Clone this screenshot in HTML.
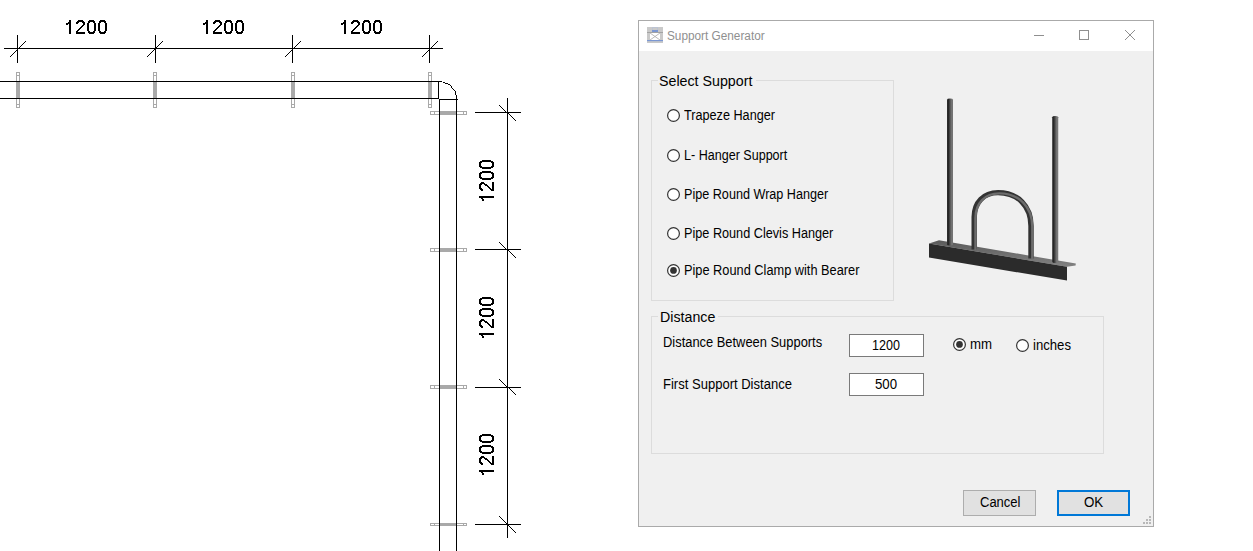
<!DOCTYPE html>
<html><head><meta charset="utf-8">
<style>
*{margin:0;padding:0;box-sizing:border-box}
html,body{width:1253px;height:551px;overflow:hidden;background:#fff;font-family:"Liberation Sans", sans-serif}
.a{position:absolute;white-space:nowrap;transform-origin:0 0}
.rb{position:absolute;width:13px;height:13px;border-radius:50%;border:1px solid #333;background:#fff}
</style></head><body>
<svg class="a" style="left:0;top:0" width="600" height="551" viewBox="0 0 600 551">
 <g fill="#a9a9a9"><rect x="16" y="82" width="4" height="16"/><rect x="153" y="82" width="4" height="16"/><rect x="291" y="82" width="4" height="16"/><rect x="428" y="82" width="4" height="16"/><rect x="440" y="111" width="16" height="4"/><rect x="440" y="248" width="16" height="4"/><rect x="440" y="385" width="16" height="4"/><rect x="440" y="523" width="16" height="3"/></g>
 <path fill="none" stroke="#a9a9a9" stroke-width="1" shape-rendering="crispEdges" d="M16.5 72.5h3v35h-3zM16.5 75.5h3M16.5 81.5h3M16.5 98.5h3M16.5 104.5h3M153.5 72.5h3v35h-3zM153.5 75.5h3M153.5 81.5h3M153.5 98.5h3M153.5 104.5h3M291.5 72.5h3v35h-3zM291.5 75.5h3M291.5 81.5h3M291.5 98.5h3M291.5 104.5h3M428.5 72.5h3v35h-3zM428.5 75.5h3M428.5 81.5h3M428.5 98.5h3M428.5 104.5h3M430.5 111.5h36v3h-36zM434.5 111.5v3M463.5 111.5v3M430.5 248.5h36v3h-36zM434.5 248.5v3M463.5 248.5v3M430.5 385.5h36v3h-36zM434.5 385.5v3M463.5 385.5v3M430.5 523.5h36v2h-36zM434.5 523.5v2M463.5 523.5v2"/>
 <g stroke="#000" stroke-width="1" fill="none" shape-rendering="crispEdges">
  <path d="M4 48.5H443"/>
<path d="M17.5 35V63M155.5 35V63M292.5 35V63M429.5 35V63"/>
<path d="M0 81.5H442M0 98.5H438.5M438.5 81V99"/>
<path d="M439 99.5H458M439.5 99V551M456.5 95V551"/>
<path d="M507.5 98V538"/>
<path d="M475 112.5H521M475 249.5H521M475 387.5H521M475 524.5H521"/>
 </g>
 <path fill="#000" shape-rendering="crispEdges" d="M10 56h1v1h-1zM11 55h1v1h-1zM12 54h1v1h-1zM13 53h1v1h-1zM14 52h1v1h-1zM15 51h1v1h-1zM16 50h1v1h-1zM17 49h1v1h-1zM18 48h1v1h-1zM19 47h1v1h-1zM20 46h1v1h-1zM21 45h1v1h-1zM22 44h1v1h-1zM23 43h1v1h-1zM24 42h1v1h-1zM25 41h1v1h-1zM147 56h1v1h-1zM148 55h1v1h-1zM149 54h1v1h-1zM150 53h1v1h-1zM151 52h1v1h-1zM152 51h1v1h-1zM153 50h1v1h-1zM154 49h1v1h-1zM155 48h1v1h-1zM156 47h1v1h-1zM157 46h1v1h-1zM158 45h1v1h-1zM159 44h1v1h-1zM160 43h1v1h-1zM161 42h1v1h-1zM162 41h1v1h-1zM285 56h1v1h-1zM286 55h1v1h-1zM287 54h1v1h-1zM288 53h1v1h-1zM289 52h1v1h-1zM290 51h1v1h-1zM291 50h1v1h-1zM292 49h1v1h-1zM293 48h1v1h-1zM294 47h1v1h-1zM295 46h1v1h-1zM296 45h1v1h-1zM297 44h1v1h-1zM298 43h1v1h-1zM299 42h1v1h-1zM300 41h1v1h-1zM422 56h1v1h-1zM423 55h1v1h-1zM424 54h1v1h-1zM425 53h1v1h-1zM426 52h1v1h-1zM427 51h1v1h-1zM428 50h1v1h-1zM429 49h1v1h-1zM430 48h1v1h-1zM431 47h1v1h-1zM432 46h1v1h-1zM433 45h1v1h-1zM434 44h1v1h-1zM435 43h1v1h-1zM436 42h1v1h-1zM437 41h1v1h-1zM499 105h1v1h-1zM500 106h1v1h-1zM501 107h1v1h-1zM502 108h1v1h-1zM503 109h1v1h-1zM504 110h1v1h-1zM505 111h1v1h-1zM506 112h1v1h-1zM507 113h1v1h-1zM508 113h1v1h-1zM509 114h1v1h-1zM510 115h1v1h-1zM511 116h1v1h-1zM512 117h1v1h-1zM513 118h1v1h-1zM514 119h1v1h-1zM515 120h1v1h-1zM499 242h1v1h-1zM500 243h1v1h-1zM501 244h1v1h-1zM502 245h1v1h-1zM503 246h1v1h-1zM504 247h1v1h-1zM505 248h1v1h-1zM506 249h1v1h-1zM507 250h1v1h-1zM508 250h1v1h-1zM509 251h1v1h-1zM510 252h1v1h-1zM511 253h1v1h-1zM512 254h1v1h-1zM513 255h1v1h-1zM514 256h1v1h-1zM515 257h1v1h-1zM499 379h1v1h-1zM500 380h1v1h-1zM501 381h1v1h-1zM502 382h1v1h-1zM503 383h1v1h-1zM504 384h1v1h-1zM505 385h1v1h-1zM506 386h1v1h-1zM507 387h1v1h-1zM508 387h1v1h-1zM509 388h1v1h-1zM510 389h1v1h-1zM511 390h1v1h-1zM512 391h1v1h-1zM513 392h1v1h-1zM514 393h1v1h-1zM515 394h1v1h-1zM499 516h1v1h-1zM500 517h1v1h-1zM501 518h1v1h-1zM502 519h1v1h-1zM503 520h1v1h-1zM504 521h1v1h-1zM505 522h1v1h-1zM506 523h1v1h-1zM507 524h1v1h-1zM508 525h1v1h-1zM509 526h1v1h-1zM510 527h1v1h-1zM511 528h1v1h-1zM512 529h1v1h-1zM513 530h1v1h-1zM514 531h1v1h-1zM515 532h1v1h-1zM443 82h1v1h-1zM444 82h1v1h-1zM445 83h1v1h-1zM446 83h1v1h-1zM447 83h1v1h-1zM448 84h1v1h-1zM449 84h1v1h-1zM450 85h1v1h-1zM451 86h1v1h-1zM451 87h1v1h-1zM452 88h1v1h-1zM453 89h1v1h-1zM454 90h1v1h-1zM455 91h1v1h-1zM455 92h1v1h-1zM455 93h1v1h-1zM455 94h1v1h-1z"/>
 <path fill="#000" shape-rendering="crispEdges" d="M69 20h2v1h-2zM78 20h5v1h-5zM89 20h5v1h-5zM100 20h5v1h-5zM69 21h2v1h-2zM77 21h7v1h-7zM88 21h7v1h-7zM99 21h7v1h-7zM68 22h3v1h-3zM76 22h3v1h-3zM82 22h3v1h-3zM88 22h2v1h-2zM93 22h2v1h-2zM99 22h2v1h-2zM104 22h2v1h-2zM66 23h5v1h-5zM76 23h2v1h-2zM83 23h2v1h-2zM87 23h2v1h-2zM94 23h2v1h-2zM98 23h2v1h-2zM105 23h2v1h-2zM66 24h2v1h-2zM69 24h2v1h-2zM83 24h2v1h-2zM87 24h2v1h-2zM94 24h2v1h-2zM98 24h2v1h-2zM105 24h2v1h-2zM69 25h2v1h-2zM82 25h2v1h-2zM87 25h2v1h-2zM94 25h2v1h-2zM98 25h2v1h-2zM105 25h2v1h-2zM69 26h2v1h-2zM81 26h2v1h-2zM87 26h2v1h-2zM94 26h2v1h-2zM98 26h2v1h-2zM105 26h2v1h-2zM69 27h2v1h-2zM80 27h2v1h-2zM87 27h2v1h-2zM94 27h2v1h-2zM98 27h2v1h-2zM105 27h2v1h-2zM69 28h2v1h-2zM79 28h2v1h-2zM87 28h2v1h-2zM94 28h2v1h-2zM98 28h2v1h-2zM105 28h2v1h-2zM69 29h2v1h-2zM78 29h2v1h-2zM87 29h2v1h-2zM94 29h2v1h-2zM98 29h2v1h-2zM105 29h2v1h-2zM69 30h2v1h-2zM77 30h2v1h-2zM87 30h2v1h-2zM94 30h2v1h-2zM98 30h2v1h-2zM105 30h2v1h-2zM69 31h2v1h-2zM76 31h2v1h-2zM88 31h2v1h-2zM93 31h2v1h-2zM99 31h2v1h-2zM104 31h2v1h-2zM69 32h2v1h-2zM76 32h9v1h-9zM88 32h7v1h-7zM99 32h7v1h-7zM69 33h2v1h-2zM76 33h9v1h-9zM89 33h5v1h-5zM100 33h5v1h-5zM206 20h2v1h-2zM215 20h5v1h-5zM226 20h5v1h-5zM237 20h5v1h-5zM206 21h2v1h-2zM214 21h7v1h-7zM225 21h7v1h-7zM236 21h7v1h-7zM205 22h3v1h-3zM213 22h3v1h-3zM219 22h3v1h-3zM225 22h2v1h-2zM230 22h2v1h-2zM236 22h2v1h-2zM241 22h2v1h-2zM203 23h5v1h-5zM213 23h2v1h-2zM220 23h2v1h-2zM224 23h2v1h-2zM231 23h2v1h-2zM235 23h2v1h-2zM242 23h2v1h-2zM203 24h2v1h-2zM206 24h2v1h-2zM220 24h2v1h-2zM224 24h2v1h-2zM231 24h2v1h-2zM235 24h2v1h-2zM242 24h2v1h-2zM206 25h2v1h-2zM219 25h2v1h-2zM224 25h2v1h-2zM231 25h2v1h-2zM235 25h2v1h-2zM242 25h2v1h-2zM206 26h2v1h-2zM218 26h2v1h-2zM224 26h2v1h-2zM231 26h2v1h-2zM235 26h2v1h-2zM242 26h2v1h-2zM206 27h2v1h-2zM217 27h2v1h-2zM224 27h2v1h-2zM231 27h2v1h-2zM235 27h2v1h-2zM242 27h2v1h-2zM206 28h2v1h-2zM216 28h2v1h-2zM224 28h2v1h-2zM231 28h2v1h-2zM235 28h2v1h-2zM242 28h2v1h-2zM206 29h2v1h-2zM215 29h2v1h-2zM224 29h2v1h-2zM231 29h2v1h-2zM235 29h2v1h-2zM242 29h2v1h-2zM206 30h2v1h-2zM214 30h2v1h-2zM224 30h2v1h-2zM231 30h2v1h-2zM235 30h2v1h-2zM242 30h2v1h-2zM206 31h2v1h-2zM213 31h2v1h-2zM225 31h2v1h-2zM230 31h2v1h-2zM236 31h2v1h-2zM241 31h2v1h-2zM206 32h2v1h-2zM213 32h9v1h-9zM225 32h7v1h-7zM236 32h7v1h-7zM206 33h2v1h-2zM213 33h9v1h-9zM226 33h5v1h-5zM237 33h5v1h-5zM344 20h2v1h-2zM353 20h5v1h-5zM364 20h5v1h-5zM375 20h5v1h-5zM344 21h2v1h-2zM352 21h7v1h-7zM363 21h7v1h-7zM374 21h7v1h-7zM343 22h3v1h-3zM351 22h3v1h-3zM357 22h3v1h-3zM363 22h2v1h-2zM368 22h2v1h-2zM374 22h2v1h-2zM379 22h2v1h-2zM341 23h5v1h-5zM351 23h2v1h-2zM358 23h2v1h-2zM362 23h2v1h-2zM369 23h2v1h-2zM373 23h2v1h-2zM380 23h2v1h-2zM341 24h2v1h-2zM344 24h2v1h-2zM358 24h2v1h-2zM362 24h2v1h-2zM369 24h2v1h-2zM373 24h2v1h-2zM380 24h2v1h-2zM344 25h2v1h-2zM357 25h2v1h-2zM362 25h2v1h-2zM369 25h2v1h-2zM373 25h2v1h-2zM380 25h2v1h-2zM344 26h2v1h-2zM356 26h2v1h-2zM362 26h2v1h-2zM369 26h2v1h-2zM373 26h2v1h-2zM380 26h2v1h-2zM344 27h2v1h-2zM355 27h2v1h-2zM362 27h2v1h-2zM369 27h2v1h-2zM373 27h2v1h-2zM380 27h2v1h-2zM344 28h2v1h-2zM354 28h2v1h-2zM362 28h2v1h-2zM369 28h2v1h-2zM373 28h2v1h-2zM380 28h2v1h-2zM344 29h2v1h-2zM353 29h2v1h-2zM362 29h2v1h-2zM369 29h2v1h-2zM373 29h2v1h-2zM380 29h2v1h-2zM344 30h2v1h-2zM352 30h2v1h-2zM362 30h2v1h-2zM369 30h2v1h-2zM373 30h2v1h-2zM380 30h2v1h-2zM344 31h2v1h-2zM351 31h2v1h-2zM363 31h2v1h-2zM368 31h2v1h-2zM374 31h2v1h-2zM379 31h2v1h-2zM344 32h2v1h-2zM351 32h9v1h-9zM363 32h7v1h-7zM374 32h7v1h-7zM344 33h2v1h-2zM351 33h9v1h-9zM364 33h5v1h-5zM375 33h5v1h-5zM479 196h1v2h-1zM479 184h1v5h-1zM479 173h1v5h-1zM479 162h1v5h-1zM480 196h1v2h-1zM480 183h1v7h-1zM480 172h1v7h-1zM480 161h1v7h-1zM481 196h1v3h-1zM481 188h1v3h-1zM481 182h1v3h-1zM481 177h1v2h-1zM481 172h1v2h-1zM481 166h1v2h-1zM481 161h1v2h-1zM482 196h1v5h-1zM482 189h1v2h-1zM482 182h1v2h-1zM482 178h1v2h-1zM482 171h1v2h-1zM482 167h1v2h-1zM482 160h1v2h-1zM483 199h1v2h-1zM483 196h1v2h-1zM483 182h1v2h-1zM483 178h1v2h-1zM483 171h1v2h-1zM483 167h1v2h-1zM483 160h1v2h-1zM484 196h1v2h-1zM484 183h1v2h-1zM484 178h1v2h-1zM484 171h1v2h-1zM484 167h1v2h-1zM484 160h1v2h-1zM485 196h1v2h-1zM485 184h1v2h-1zM485 178h1v2h-1zM485 171h1v2h-1zM485 167h1v2h-1zM485 160h1v2h-1zM486 196h1v2h-1zM486 184h1v2h-1zM486 178h1v2h-1zM486 171h1v2h-1zM486 167h1v2h-1zM486 160h1v2h-1zM487 196h1v2h-1zM487 185h1v2h-1zM487 178h1v2h-1zM487 171h1v2h-1zM487 167h1v2h-1zM487 160h1v2h-1zM488 196h1v2h-1zM488 186h1v2h-1zM488 178h1v2h-1zM488 171h1v2h-1zM488 167h1v2h-1zM488 160h1v2h-1zM489 196h1v2h-1zM489 187h1v2h-1zM489 178h1v2h-1zM489 171h1v2h-1zM489 167h1v2h-1zM489 160h1v2h-1zM490 196h1v2h-1zM490 188h1v2h-1zM490 178h1v2h-1zM490 171h1v2h-1zM490 167h1v2h-1zM490 160h1v2h-1zM491 196h1v2h-1zM491 189h1v2h-1zM491 177h1v2h-1zM491 172h1v2h-1zM491 166h1v2h-1zM491 161h1v2h-1zM492 196h1v2h-1zM492 182h1v9h-1zM492 172h1v7h-1zM492 161h1v7h-1zM493 196h1v2h-1zM493 182h1v9h-1zM493 173h1v5h-1zM493 162h1v5h-1zM479 333h1v2h-1zM479 321h1v5h-1zM479 310h1v5h-1zM479 299h1v5h-1zM480 333h1v2h-1zM480 320h1v7h-1zM480 309h1v7h-1zM480 298h1v7h-1zM481 333h1v3h-1zM481 325h1v3h-1zM481 319h1v3h-1zM481 314h1v2h-1zM481 309h1v2h-1zM481 303h1v2h-1zM481 298h1v2h-1zM482 333h1v5h-1zM482 326h1v2h-1zM482 319h1v2h-1zM482 315h1v2h-1zM482 308h1v2h-1zM482 304h1v2h-1zM482 297h1v2h-1zM483 336h1v2h-1zM483 333h1v2h-1zM483 319h1v2h-1zM483 315h1v2h-1zM483 308h1v2h-1zM483 304h1v2h-1zM483 297h1v2h-1zM484 333h1v2h-1zM484 320h1v2h-1zM484 315h1v2h-1zM484 308h1v2h-1zM484 304h1v2h-1zM484 297h1v2h-1zM485 333h1v2h-1zM485 321h1v2h-1zM485 315h1v2h-1zM485 308h1v2h-1zM485 304h1v2h-1zM485 297h1v2h-1zM486 333h1v2h-1zM486 321h1v2h-1zM486 315h1v2h-1zM486 308h1v2h-1zM486 304h1v2h-1zM486 297h1v2h-1zM487 333h1v2h-1zM487 322h1v2h-1zM487 315h1v2h-1zM487 308h1v2h-1zM487 304h1v2h-1zM487 297h1v2h-1zM488 333h1v2h-1zM488 323h1v2h-1zM488 315h1v2h-1zM488 308h1v2h-1zM488 304h1v2h-1zM488 297h1v2h-1zM489 333h1v2h-1zM489 324h1v2h-1zM489 315h1v2h-1zM489 308h1v2h-1zM489 304h1v2h-1zM489 297h1v2h-1zM490 333h1v2h-1zM490 325h1v2h-1zM490 315h1v2h-1zM490 308h1v2h-1zM490 304h1v2h-1zM490 297h1v2h-1zM491 333h1v2h-1zM491 326h1v2h-1zM491 314h1v2h-1zM491 309h1v2h-1zM491 303h1v2h-1zM491 298h1v2h-1zM492 333h1v2h-1zM492 319h1v9h-1zM492 309h1v7h-1zM492 298h1v7h-1zM493 333h1v2h-1zM493 319h1v9h-1zM493 310h1v5h-1zM493 299h1v5h-1zM479 470h1v2h-1zM479 458h1v5h-1zM479 447h1v5h-1zM479 436h1v5h-1zM480 470h1v2h-1zM480 457h1v7h-1zM480 446h1v7h-1zM480 435h1v7h-1zM481 470h1v3h-1zM481 462h1v3h-1zM481 456h1v3h-1zM481 451h1v2h-1zM481 446h1v2h-1zM481 440h1v2h-1zM481 435h1v2h-1zM482 470h1v5h-1zM482 463h1v2h-1zM482 456h1v2h-1zM482 452h1v2h-1zM482 445h1v2h-1zM482 441h1v2h-1zM482 434h1v2h-1zM483 473h1v2h-1zM483 470h1v2h-1zM483 456h1v2h-1zM483 452h1v2h-1zM483 445h1v2h-1zM483 441h1v2h-1zM483 434h1v2h-1zM484 470h1v2h-1zM484 457h1v2h-1zM484 452h1v2h-1zM484 445h1v2h-1zM484 441h1v2h-1zM484 434h1v2h-1zM485 470h1v2h-1zM485 458h1v2h-1zM485 452h1v2h-1zM485 445h1v2h-1zM485 441h1v2h-1zM485 434h1v2h-1zM486 470h1v2h-1zM486 458h1v2h-1zM486 452h1v2h-1zM486 445h1v2h-1zM486 441h1v2h-1zM486 434h1v2h-1zM487 470h1v2h-1zM487 459h1v2h-1zM487 452h1v2h-1zM487 445h1v2h-1zM487 441h1v2h-1zM487 434h1v2h-1zM488 470h1v2h-1zM488 460h1v2h-1zM488 452h1v2h-1zM488 445h1v2h-1zM488 441h1v2h-1zM488 434h1v2h-1zM489 470h1v2h-1zM489 461h1v2h-1zM489 452h1v2h-1zM489 445h1v2h-1zM489 441h1v2h-1zM489 434h1v2h-1zM490 470h1v2h-1zM490 462h1v2h-1zM490 452h1v2h-1zM490 445h1v2h-1zM490 441h1v2h-1zM490 434h1v2h-1zM491 470h1v2h-1zM491 463h1v2h-1zM491 451h1v2h-1zM491 446h1v2h-1zM491 440h1v2h-1zM491 435h1v2h-1zM492 470h1v2h-1zM492 456h1v9h-1zM492 446h1v7h-1zM492 435h1v7h-1zM493 470h1v2h-1zM493 456h1v9h-1zM493 447h1v5h-1zM493 436h1v5h-1z"/>
</svg>
<!-- dialog -->
<div class="a" style="left:638px;top:20px;width:516px;height:507px;border:1px solid #aaa;background:#f0f0f0"></div>
<div class="a" style="left:639px;top:21px;width:514px;height:30px;background:#fff"></div>
<svg class="a" style="left:647px;top:27px" width="16" height="16" viewBox="0 0 16 16">
 <rect width="16" height="16" fill="#c9c9c9"/>
 <rect x="5.5" y="0.5" width="5" height="3" fill="none" stroke="#bcc3d3" stroke-width="1"/>
 <rect x="5" y="3" width="6" height="2" fill="#7b97d2"/>
 <rect x="0" y="5" width="16" height="1" fill="#a3a3a3"/>
 <rect x="3" y="6" width="10" height="7" fill="#fff"/>
 <path d="M3 6L13 13M13 6L3 13" stroke="#aaa" stroke-width="0.8"/>
 <rect x="0" y="13" width="16" height="1" fill="#7b97d2"/>
 <rect x="0" y="14" width="16" height="1" fill="#bcc1cb"/>
</svg>
<svg class="a" style="left:1030px;top:25px" width="110" height="20" viewBox="1030 25 110 20">
 <g stroke="#8f8f8f" stroke-width="1" fill="none" shape-rendering="crispEdges">
  <path d="M1034 35.5H1044"/>
  <rect x="1079.5" y="30.5" width="9" height="9"/>
 </g>
 <path d="M1125 30L1135 40M1135 30L1125 40" stroke="#8f8f8f" stroke-width="1" fill="none"/>
</svg>
<!-- group boxes -->
<div class="a" style="left:651px;top:80px;width:243px;height:221px;border:1px solid #dcdcdc"></div>
<div class="a" style="left:658px;top:74px;width:98px;height:12px;background:#f0f0f0"></div>
<div class="a" style="left:651px;top:316px;width:453px;height:138px;border:1px solid #dcdcdc"></div>
<div class="a" style="left:658px;top:310px;width:60px;height:12px;background:#f0f0f0"></div>
<!-- textboxes -->
<div class="a" style="left:849px;top:334px;width:75px;height:23px;border:1px solid #7a7a7a;background:#fff"></div>
<div class="a" style="left:849px;top:373px;width:75px;height:23px;border:1px solid #7a7a7a;background:#fff"></div>
<!-- buttons -->
<div class="a" style="left:963px;top:490px;width:73px;height:26px;border:1px solid #adadad;background:#e1e1e1"></div>
<div class="a" style="left:1057px;top:490px;width:73px;height:26px;border:2px solid #0078d7;background:#e1e1e1"></div>
<!-- grip -->
<svg class="a" style="left:1143px;top:516px" width="10" height="10" viewBox="0 0 10 10" fill="#b8b8b8">
 <rect x="6" y="0" width="2" height="2"/><rect x="3" y="3" width="2" height="2"/><rect x="6" y="3" width="2" height="2"/>
 <rect x="0" y="6" width="2" height="2"/><rect x="3" y="6" width="2" height="2"/><rect x="6" y="6" width="2" height="2"/>
</svg>
<svg class="a" style="left:667px;top:109px" width="13" height="13" viewBox="0 0 13 13"><circle cx="6.5" cy="6.5" r="5.9" fill="#fff" stroke="#333" stroke-width="1.2"/></svg><svg class="a" style="left:667px;top:149px" width="13" height="13" viewBox="0 0 13 13"><circle cx="6.5" cy="6.5" r="5.9" fill="#fff" stroke="#333" stroke-width="1.2"/></svg><svg class="a" style="left:667px;top:188px" width="13" height="13" viewBox="0 0 13 13"><circle cx="6.5" cy="6.5" r="5.9" fill="#fff" stroke="#333" stroke-width="1.2"/></svg><svg class="a" style="left:667px;top:227px" width="13" height="13" viewBox="0 0 13 13"><circle cx="6.5" cy="6.5" r="5.9" fill="#fff" stroke="#333" stroke-width="1.2"/></svg><svg class="a" style="left:667px;top:264px" width="13" height="13" viewBox="0 0 13 13"><circle cx="6.5" cy="6.5" r="5.9" fill="#fff" stroke="#333" stroke-width="1.2"/><circle cx="6.5" cy="6.45" r="3.35" fill="#333"/></svg><svg class="a" style="left:953px;top:338px" width="13" height="13" viewBox="0 0 13 13"><circle cx="6.5" cy="6.5" r="5.9" fill="#fff" stroke="#333" stroke-width="1.2"/><circle cx="6.5" cy="6.45" r="3.35" fill="#333"/></svg><svg class="a" style="left:1016px;top:339px" width="13" height="13" viewBox="0 0 13 13"><circle cx="6.5" cy="6.5" r="5.9" fill="#fff" stroke="#333" stroke-width="1.2"/></svg>
<div class="a" style="left:667.22px;top:30px;font-size:12px;line-height:12px;color:#8f8f8f;transform:scaleX(0.9828);">Support Generator</div>
<div class="a" style="left:659.28px;top:74px;font-size:14px;line-height:14px;color:#000;transform:scaleX(1.0165);">Select Support</div>
<div class="a" style="left:659.78px;top:310px;font-size:14px;line-height:14px;color:#000;transform:scaleX(1.0151);">Distance</div>
<div class="a" style="left:684.2px;top:108px;font-size:14px;line-height:14px;color:#000;transform:scaleX(0.904);">Trapeze Hanger</div>
<div class="a" style="left:683.7px;top:148px;font-size:14px;line-height:14px;color:#000;transform:scaleX(0.8965);">L- Hanger Support</div>
<div class="a" style="left:683.8px;top:187px;font-size:14px;line-height:14px;color:#000;transform:scaleX(0.9013);">Pipe Round Wrap Hanger</div>
<div class="a" style="left:683.8px;top:226px;font-size:14px;line-height:14px;color:#000;transform:scaleX(0.9049);">Pipe Round Clevis Hanger</div>
<div class="a" style="left:683.79px;top:263px;font-size:14px;line-height:14px;color:#000;transform:scaleX(0.9126);">Pipe Round Clamp with Bearer</div>
<div class="a" style="left:662.58px;top:335px;font-size:14px;line-height:14px;color:#000;transform:scaleX(0.9211);">Distance Between Supports</div>
<div class="a" style="left:662.57px;top:377px;font-size:14px;line-height:14px;color:#000;transform:scaleX(0.9307);">First Support Distance</div>
<div class="a" style="left:871.8px;top:338px;font-size:14px;line-height:14px;color:#000;transform:scaleX(0.8967);">1200</div>
<div class="a" style="left:875.35px;top:377px;font-size:14px;line-height:14px;color:#000;transform:scaleX(0.9455);">500</div>
<div class="a" style="left:969.65px;top:337px;font-size:14px;line-height:14px;color:#000;transform:scaleX(0.9455);">mm</div>
<div class="a" style="left:1032.66px;top:338px;font-size:14px;line-height:14px;color:#000;transform:scaleX(0.9385);">inches</div>
<div class="a" style="left:979.57px;top:495px;font-size:14px;line-height:14px;color:#000;transform:scaleX(0.9286);">Cancel</div>
<div class="a" style="left:1084.25px;top:495px;font-size:14px;line-height:14px;color:#000;transform:scaleX(0.9526);">OK</div>
<svg class="a" style="left:919px;top:90px" width="170" height="200" viewBox="919 90 170 200">
 <defs>
  <linearGradient id="rod" x1="0" x2="1" y1="0" y2="0">
   <stop offset="0" stop-color="#2e2e2e"/><stop offset="0.25" stop-color="#262626"/>
   <stop offset="0.7" stop-color="#707070"/><stop offset="0.9" stop-color="#787878"/><stop offset="1" stop-color="#5c5c5c"/>
  </linearGradient>
  <linearGradient id="top" x1="0" x2="0" y1="0" y2="1">
   <stop offset="0" stop-color="#5a5a5a"/><stop offset="1" stop-color="#828282"/>
  </linearGradient>
 </defs>
 <path d="M929 243.4L939 240.2L1075.8 263.6L1075.6 265.4L1067 266.8Z" fill="url(#top)"/>
 <rect x="947" y="98.5" width="6" height="147" rx="3" ry="1.2" fill="url(#rod)"/>
 <rect x="1052.2" y="116" width="6" height="147" rx="3" ry="1.2" fill="url(#rod)"/>
 <path d="M974.2 249.5V217C974.2 202.4 983.7 192.6 998 192.6C1017.8 192.6 1031 206 1031 226V258.5" fill="none" stroke="#333" stroke-width="5.4"/>
 <path d="M974.2 249.5V217C974.2 202.4 983.7 192.6 998 192.6C1017.8 192.6 1031 206 1031 226V258.5" fill="none" stroke="#6c6c6c" stroke-width="2.4" transform="translate(1.3 0.8)"/>
 <path d="M929 243.4L1067 266.8V280.6L929 257.6Z" fill="#2b2b2b"/>
</svg>
</body></html>
